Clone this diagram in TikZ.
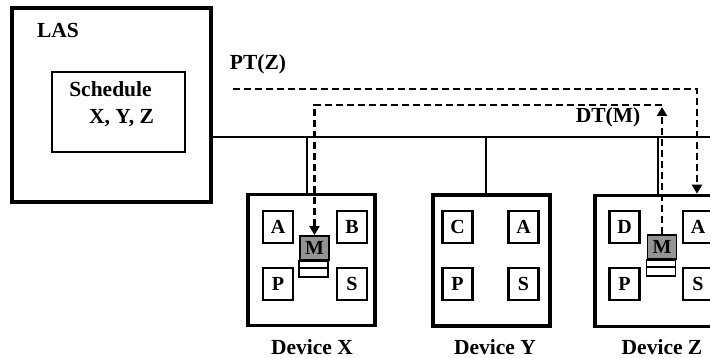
\documentclass[tikz,border=0pt]{standalone}
\usepackage{fontspec}
\setmainfont{Liberation Serif}
\usetikzlibrary{positioning,arrows.meta}

\begin{document}
\begin{tikzpicture}[x=1pt,y=-1pt,
  outerbox/.style={draw, line width=3.6pt, inner sep=0pt},
  schedbox/.style={draw, line width=2pt, minimum width=133pt, minimum height=80pt, inner sep=0pt},
  devbox/.style={draw, line width=3.6pt, minimum height=131pt, inner sep=0pt},
  unitbox/.style={draw, line width=2.2pt, minimum width=30pt, minimum height=32pt, inner sep=0pt, font=\fontsize{20}{22}\selectfont\bfseries},
  mbox/.style={draw, fill=black!42, line width=1.8pt, minimum width=29pt, minimum height=24pt, inner sep=0pt, font=\fontsize{20}{22}\selectfont\bfseries},
  stripe/.style={line width=1.6pt},
  lbl/.style={font=\fontsize{21.5}{24}\selectfont\bfseries, inner sep=0pt},
  busline/.style={line width=2pt},
  msgline/.style={line width=2.3pt, dash pattern=on 7pt off 4pt},
  tip/.style={-{Triangle[width=10pt,length=9pt]}},
]
\useasboundingbox (0,0) rectangle (710,358);
\clip (0,0) rectangle (710,358);

% LAS with its schedule
\node[outerbox, minimum width=199pt, minimum height=194pt] (las) at (111.5,105) {};
\node[lbl, anchor=base] (lasname) at (58,38) {LAS};
\node[schedbox] (sched) at (118.5,112) {};
\node[lbl, anchor=base] (schedname) at (110.5,97) {Schedule};
\node[lbl, anchor=base] (schedlist) at (121.5,124) {X, Y, Z};

% devices
\node[devbox, minimum width=127pt] (devX) at (311.5,260) {};
\node[devbox, minimum width=117pt] (devY) at (491.5,260.5) {};
\node[devbox, minimum width=127pt] (devZ) at (658.5,261) {};
\node[lbl, anchor=base] (devXname) at (312,354) {Device X};
\node[lbl, anchor=base] (devYname) at (495,354) {Device Y};
\node[lbl, anchor=base] (devZname) at (662,354) {Device Z};

% units inside the devices
\foreach \nm/\tx/\px/\py in {xA/A/278/227, xB/B/352/227, xP/P/278/284, xS/S/352/284,
                             yC/C/457.5/227, yA/A/523.5/227, yP/P/457.5/284, yS/S/523.5/284,
                             zD/D/624.5/227, zA/A/698/227, zP/P/624.5/284, zS/S/698/284}
  \node[unitbox] (\nm) at (\px,\py) {\tx};

% M units (gray part + two stripes)
\node[mbox] (mX) at (314.5,248) {M};
\draw[stripe] (mX.south west) rectangle ++(29,16) (mX.south west) ++(0,7) -- ++(29,0);
\node[mbox] (mZ) at (662,247) {M};
\draw[stripe] (mZ.south west) rectangle ++(29,16) (mZ.south west) ++(0,7) -- ++(29,0);

% bus and taps
\coordinate (busE) at (712,137);
\draw[busline] (las.east |- busE) -- (busE);
\coordinate (tapX) at (307,137);
\coordinate (tapY) at (486,137);
\coordinate (tapZ) at (658,137);
\draw[busline] (tapX) -- (tapX |- devX.north);
\draw[busline] (tapY) -- (tapY |- devY.north);
\draw[busline] (tapZ) -- (tapZ |- devZ.north);

% PT(Z)
\coordinate (ptS) at (233,89);
\coordinate (ptC) at (697,89);
\draw[msgline, tip] (ptS) -- (ptC) -- (ptC |- devZ.north);
\node[lbl, anchor=base] (ptlabel) at (258,70) {PT(Z)};

% DT(M)
\coordinate (dtUp) at (662,107);
\coordinate (dtR) at (662,105);
\coordinate (dtL) at (314.5,105);
\draw[msgline, tip] (mZ.north) -- (dtUp);
\draw[msgline, tip] (dtR) -- (dtL) -- (mX.north);
\node[lbl, anchor=base] (dtlabel) at (608,123) {DT(M)};
\end{tikzpicture}
\end{document}
